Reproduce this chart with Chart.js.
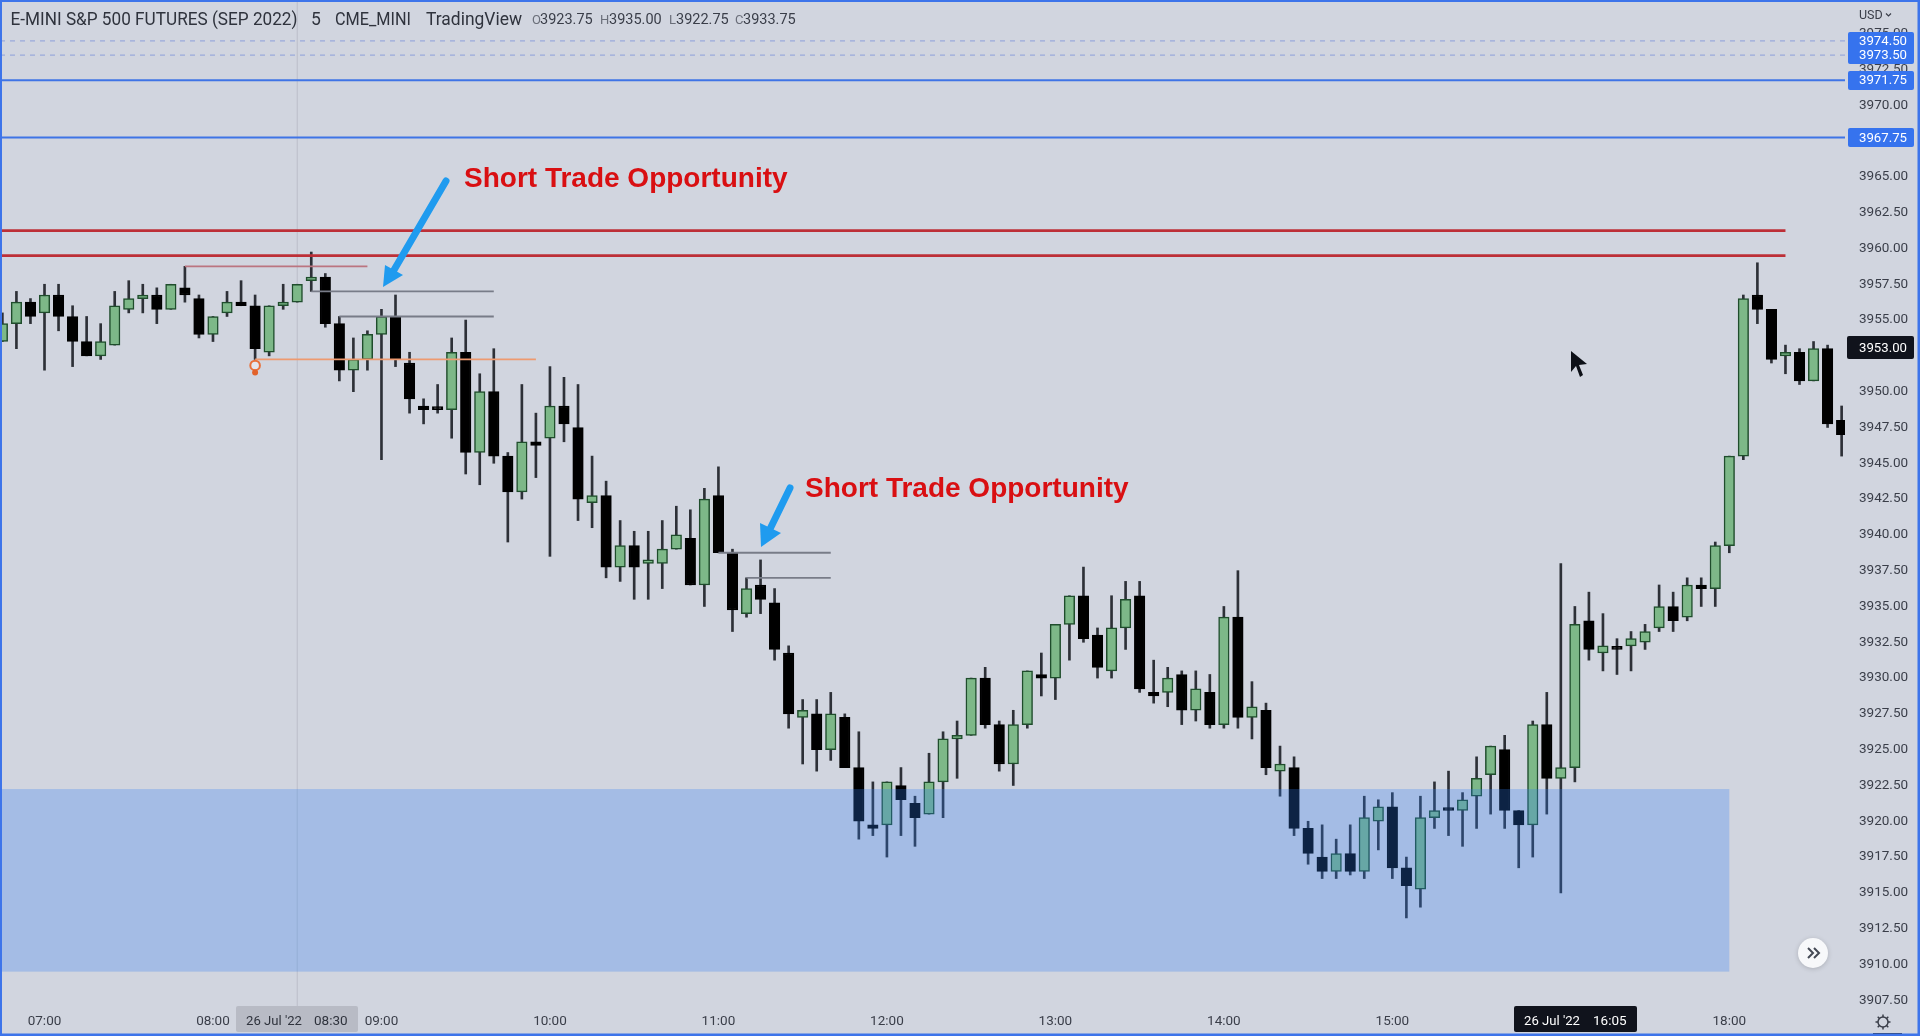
<!DOCTYPE html>
<html><head><meta charset="utf-8">
<style>html,body{margin:0;padding:0;background:#d1d5df;overflow:hidden}canvas{display:block}</style>
<script src="https://cdn.jsdelivr.net/npm/chart.js@4"></script>
</head><body><canvas id="c" width="1920" height="1036"></canvas>
<script>
const firstBar = -3; // bar number relative to the 07:00 bar, 5 minutes per bar
const opens = [3953.5,3954.75,3956.25,3955.5,3956.75,3955.25,3953.5,3952.5,3953.25,3955.75,
3956.5,3956.75,3955.75,3957.25,3956.5,3954,3955.5,3956.25,3956,3952.75,
3956,3956.25,3957.75,3958,3954.75,3951.5,3952.25,3954,3955.25,3952,
3949,3948.75,3948.75,3952.75,3945.75,3950,3945.5,3943,3946.5,3946.75,
3949,3947.5,3942.25,3942.75,3937.75,3939.25,3938,3938,3939,3939.75,
3936.5,3942.75,3938.75,3934.5,3936.5,
3935.25,3931.75,3927.25,3927.5,3925,3927.25,3923.75,3919.75,3919.75,3922.5,
3921.25,3920.5,3922.75,3925.75,3926,3930,3926.75,3924,3926.75,3930.25,
3930,3933.75,3935.75,3933,3930.5,3933.5,3935.75,3929,3929,3930.25,
3927.75,3929,3926.75,3934.25,3927.25,3927.75,3923.5,3923.75,3919.5,3917.5,
3916.5,3917.75,3916.5,3920,3921,3916.75,3915.25,3920.25,3920.75,3920.75,
3921.75,3923.25,3925,3920.75,3919.75,3926.75,3923,3923.75,3934,3931.75,
3932,3932.25,3932.5,3933.5,3935,3934.25,3936.5,3936.25,3939.25,3945.5,
3956.75,3955.75,3952.5,3952.75,3950.75,3953,3948];
const closes = [3954.75,3956.25,3955.25,3956.75,3955.25,3953.5,3952.5,3953.5,3956,3956.5,
3956.75,3955.75,3957.5,3956.75,3954,3955.25,3956.25,3956,3953,3956,
3956.25,3957.5,3958,3954.75,3951.5,3952.25,3954,3955.25,3952.25,3949.5,
3948.75,3948.75,3952.75,3945.75,3950,3945.5,3943,3946.5,3946.25,3949,
3947.75,3942.5,3942.75,3937.75,3939.25,3937.75,3938.25,3939,3940,3936.5,
3942.5,3938.75,3934.75,3936.25,3935.5,
3932,3927.5,3927.75,3925,3927.5,3923.75,3920,3919.5,3922.75,3921.5,
3920.25,3922.75,3925.75,3926,3930,3926.75,3924,3926.75,3930.5,3930,
3933.75,3935.75,3932.75,3930.75,3933.5,3935.5,3929.25,3928.75,3930,3927.75,
3929.25,3926.75,3934.25,3927.25,3928,3923.75,3924,3919.5,3917.75,3916.5,
3917.75,3916.5,3920.25,3921,3916.75,3915.5,3920.25,3920.75,3920.75,3921.5,
3923,3925.25,3920.75,3919.75,3926.75,3923,3923.75,3933.75,3932,3932.25,
3932,3932.75,3933.25,3935,3934,3936.5,3936.25,3939.25,3945.5,3956.5,
3955.75,3952.25,3952.75,3950.75,3953,3947.75,3947];
const highs = [3955.5,3957,3956.5,3957.5,3957.5,3956,3955.25,3954.75,3957,3957.75,
3957.5,3957.25,3957.5,3958.75,3956.75,3955.25,3957,3957.75,3956.75,3956,
3957.5,3957.5,3959.75,3958.25,3955.25,3953.75,3954.25,3955.75,3956.75,3952.75,
3949.5,3950.5,3953.75,3955,3951.25,3953,3945.75,3950.5,3948.5,3951.75,
3951,3950.5,3945.5,3943.75,3941,3940.25,3940.25,3941,3942,3941.75,
3943.25,3944.75,3939,3937,3938.25,
3936.25,3932.25,3928.5,3928.5,3929,3927.5,3926.25,3922.75,3922.75,3923.75,
3921.75,3924.75,3926.25,3927,3930,3930.75,3927,3927.75,3930.5,3931.75,
3933.75,3935.75,3937.75,3933.5,3935.75,3936.75,3936.75,3931.25,3930.75,3930.5,
3930.5,3930.25,3935,3937.5,3929.75,3928.25,3925.25,3924.5,3920,3919.75,
3918.75,3919.75,3921.75,3921.5,3922,3917.5,3921.75,3922.75,3923.5,3922,
3924.5,3925.25,3926,3920.75,3927,3929,3938,3935,3936,3934.5,
3932.75,3933.25,3933.75,3936.5,3936,3937,3937,3939.5,3945.5,3956.75,
3959,3955.75,3953.25,3953,3953.5,3953.25,3949];
const lows = [3953.5,3953,3954.75,3951.5,3954.25,3951.75,3952.5,3952.25,3953.25,3955.5,
3955.5,3954.75,3955.75,3956.25,3953.75,3953.5,3955.25,3956,3952.25,3952.5,
3955.75,3956.25,3957,3954.5,3950.75,3950,3951.5,3945.25,3951.75,3948.5,
3947.75,3948.5,3946.75,3944.25,3943.5,3945,3939.5,3942.5,3944,3938.5,
3946.5,3941,3940.5,3937,3936.75,3935.5,3935.5,3936.25,3939,3936.5,
3935,3938.75,3933.25,3934.25,3934.5,
3931.25,3926.5,3924,3923.5,3924.25,3923.75,3918.75,3919,3917.5,3919,
3918.25,3920.5,3920.25,3923,3926,3926.5,3923.5,3922.5,3926.5,3928.75,
3928.5,3931.25,3932.5,3930,3930,3932,3929,3928.25,3928,3926.75,
3927,3926.5,3926.5,3926.5,3925.75,3923.25,3921.75,3919,3917,3916,
3916,3916.25,3916,3918,3916,3913.25,3914,3919.5,3919,3918.25,
3919.5,3920.5,3919.5,3916.75,3917.5,3920.5,3915,3922.75,3931.25,3930.5,
3930.25,3930.5,3932,3933.25,3933.25,3934,3935,3935,3938.75,3945.25,
3954.75,3952,3951.25,3950.5,3950.75,3947.5,3945.5];

const priceTicks = [3907.5,3910,3912.5,3915,3917.5,3920,3922.5,3925,3927.5,3930,3932.5,3935,3937.5,3940,3942.5,3945,3947.5,3950,3952.5,3955,3957.5,3960,3962.5,3965,3967.5,3970,3972.5,3975];
const timeBars = [0,12,24,36,48,60,72,84,96,120];
const timeLabels = ['07:00','08:00','09:00','10:00','11:00','12:00','13:00','14:00','15:00','18:00'];

const solidBlueLevels = [3971.75,3967.75];
const dashedBlueLevels = [3974.5,3973.5];
const redLevels = [3961.25,3959.5];
const redEndBar = 124;
const grayRanges = [[19,32,3957],[21,32,3955.25],[48,56,3938.75],[50,56,3937]];
const pinkRange = [10,23,3958.75];
const orangeRange = [15,35,3952.25];
const crosshairBar = 18;
const zoneRange = {bar:120, top:3922.25, bottom:3909.5};

const X_MIN = -3.17, X_MAX = 128.24, Y_MAX = 3977.35, Y_MIN = 3907.10;
const FONT = 'Roboto, "Open Sans", sans-serif';
const bars = opens.map((o,k)=>k+firstBar);
const GREEN='#7db888', GREEN_EDGE='#1f4d2c', BLACK='#000000';
const isUp = opens.map((o,k)=>closes[k]>o);

function seg(x0,x1,y,color,width,order,dash){
  return {type:'line',data:[{x:x0,y:y},{x:x1,y:y}],borderColor:color,borderWidth:width,pointRadius:0,order:order,borderDash:dash||[]};
}
const datasets = [
  {type:'bar',label:'body',order:3,grouped:false,barThickness:10.5,minBarLength:3,borderSkipped:false,borderWidth:1.5,
   data:bars.map((x,k)=>({x:x,y:[opens[k],closes[k]]})),
   backgroundColor:isUp.map(u=>u?GREEN:BLACK),borderColor:isUp.map(u=>u?GREEN_EDGE:BLACK)},
  {type:'bar',label:'wick',order:4,grouped:false,barThickness:2,borderWidth:0,backgroundColor:'#2d3037',
   data:bars.map((x,k)=>({x:x,y:[lows[k],highs[k]]}))},
  {type:'line',label:'crosshair',order:6,data:[{x:crosshairBar,y:Y_MIN},{x:crosshairBar,y:Y_MAX}],borderColor:'#bbbec9',borderWidth:1,pointRadius:0},
];
solidBlueLevels.forEach(v=>datasets.push(seg(X_MIN,X_MAX,v,'#3f74e6',2,1)));
dashedBlueLevels.forEach(v=>datasets.push(seg(X_MIN,X_MAX,v,'#9aaadb',1.2,1,[5,5])));
redLevels.forEach(v=>datasets.push(seg(X_MIN,redEndBar,v,'#bd2f37',2.8,1)));
grayRanges.forEach(r=>datasets.push(seg(r[0],r[1],r[2],'#787c88',1.8,2)));
datasets.push(seg(pinkRange[0],pinkRange[1],pinkRange[2],'#bb7580',1.6,2));
datasets.push(seg(orangeRange[0],orangeRange[1],orangeRange[2],'#ee9a70',1.8,2));

const overlay = {
  id:'overlay',
  afterDatasetsDraw(chart){
    const {ctx,scales:{x,y}} = chart;
    ctx.save();
    // demand zone
    const zx1=x.getPixelForValue(zoneRange.bar), zt=y.getPixelForValue(zoneRange.top), zb=y.getPixelForValue(zoneRange.bottom);
    ctx.fillStyle='rgba(45,125,245,0.28)';
    ctx.fillRect(0,zt,zx1,zb-zt);
    // light bulb marker below bar 15
    const bx=x.getPixelForValue(orangeRange[0]), by=y.getPixelForValue(orangeRange[2]);
    ctx.strokeStyle='#e8703a';ctx.lineWidth=2;ctx.fillStyle='#e4e5ec';
    ctx.beginPath();ctx.arc(bx,by+6,4.8,0,Math.PI*2);ctx.fill();ctx.stroke();
    ctx.fillStyle='#e2622a';ctx.beginPath();ctx.arc(bx,by+13,3,0,Math.PI*2);ctx.fill();
    // arrows
    const arrow=(tx,ty,hx,hy,b1x,b1y,b2x,b2y)=>{
      ctx.strokeStyle='#1f9bef';ctx.fillStyle='#1f9bef';ctx.lineWidth=7;ctx.lineCap='round';
      ctx.beginPath();ctx.moveTo(tx,ty);ctx.lineTo((b1x+b2x)/2,(b1y+b2y)/2);ctx.stroke();
      ctx.beginPath();ctx.moveTo(hx,hy);ctx.lineTo(b1x,b1y);ctx.lineTo(b2x,b2y);ctx.closePath();ctx.fill();
    };
    arrow(446,181,383,287,385,265,403,275);
    arrow(790,488,761,547,760,523,781,533);
    // annotation text
    ctx.fillStyle='#d90f12';ctx.font='bold 28px "Liberation Sans", Arial, sans-serif';ctx.textAlign='left';ctx.textBaseline='alphabetic';
    ctx.fillText('Short Trade Opportunity',464,187,324);
    ctx.fillText('Short Trade Opportunity',805,497,324);
    // mouse cursor
    const c=[[1571,351],[1571,372],[1576,366],[1580,377],[1583,375],[1579,365],[1587,364]];
    ctx.fillStyle='#0d1017';ctx.beginPath();c.forEach((p,i)=>i?ctx.lineTo(p[0],p[1]):ctx.moveTo(p[0],p[1]));ctx.closePath();ctx.fill();
    ctx.restore();
  },
  afterDraw(chart){
    const {ctx} = chart;
    ctx.save();
    const text=(s,tx,ty,color,font,maxW,align)=>{ctx.fillStyle=color;ctx.font=font;ctx.textAlign=align||'left';ctx.textBaseline='middle';ctx.fillText(s,tx,ty,maxW);};
    const box=(x0,y0,x1,y1,c)=>{ctx.fillStyle=c;ctx.beginPath();ctx.roundRect(x0,y0,x1-x0,y1-y0,2);ctx.fill();};
    const f13='13.5px '+FONT;
    // header
    const dark='#2f333d', H='17.5px '+FONT, HY=20.5;
    text('E-MINI S&P 500 FUTURES (SEP 2022)',10.5,HY,dark,H,287);
    text('5',311,HY,dark,H);
    text('CME_MINI',335,HY,dark,H,76);
    text('TradingView',426,HY,dark,H,96);
    const S='14.5px '+FONT;
    [['O',532,'3923.75',540],['H',600,'3935.00',609],['L',669,'3922.75',676],['C',735,'3933.75',743]].forEach(r=>{
      text(r[0],r[1],HY,'#6a6e79','13px '+FONT);text(r[2],r[3],HY,'#3a3e49',S,53);
    });
    // price labels
    text('USD',1859,15.5,'#3a3e49','12.5px '+FONT);
    ctx.strokeStyle='#3a3e49';ctx.lineWidth=1.2;ctx.beginPath();ctx.moveTo(1886,13.5);ctx.lineTo(1888.5,16);ctx.lineTo(1891,13.5);ctx.stroke();
    box(1848,32,1914,64,'#3673ee');
    text('3974.50',1859,42,'#ffffff',f13,48);text('3973.50',1859,56,'#ffffff',f13,48);
    box(1848,71,1914,90,'#3673ee');
    text('3971.75',1859,81,'#ffffff',f13,48);
    box(1848,128,1914,147,'#3673ee');
    text('3967.75',1859,138.5,'#ffffff',f13,48);
    box(1847,336,1914,359,'#10131c');
    text('3953.00',1859,349,'#ffffff',f13,48);
    // time labels on crosshairs
    box(236,1006,358,1032,'#b8bbc5');
    text("26 Jul '22",246,1021.5,'#2f333d',f13,56);text('08:30',314,1021.5,'#2f333d',f13);
    box(1514,1006,1637,1032,'#10131c');
    text("26 Jul '22",1524,1021.5,'#ffffff',f13,56);text('16:05',1593,1021.5,'#ffffff',f13);
    // scroll button
    ctx.shadowColor='rgba(0,0,0,0.18)';ctx.shadowBlur=5;ctx.shadowOffsetY=1;
    ctx.fillStyle='#f7f8fa';ctx.beginPath();ctx.arc(1813,953,15,0,Math.PI*2);ctx.fill();
    ctx.shadowColor='transparent';ctx.shadowBlur=0;ctx.shadowOffsetY=0;
    ctx.strokeStyle='#444954';ctx.lineWidth=2;
    [1808,1814].forEach(px=>{ctx.beginPath();ctx.moveTo(px,948);ctx.lineTo(px+5,953);ctx.lineTo(px,958);ctx.stroke();});
    // settings gear
    ctx.strokeStyle='#3a3e49';ctx.lineWidth=1.5;
    ctx.beginPath();ctx.arc(1883,1022,5,0,Math.PI*2);ctx.stroke();
    for(let a=0;a<8;a++){const t=a*Math.PI/4;ctx.beginPath();ctx.moveTo(1883+5*Math.cos(t),1022+5*Math.sin(t));ctx.lineTo(1883+7.5*Math.cos(t),1022+7.5*Math.sin(t));ctx.stroke();}
    ctx.fillStyle='#2d3140';ctx.fillRect(1873,1033,29,3);
    // window frame
    ctx.fillStyle='#3d74ea';
    ctx.fillRect(0,0,1920,2);ctx.fillRect(0,0,2,1036);ctx.fillRect(0,1033.5,1920,2.5);ctx.fillRect(1917.5,0,2.5,1036);
    ctx.restore();
  }
};

new Chart(document.getElementById('c'),{
  data:{datasets},
  plugins:[overlay],
  options:{
    responsive:false,animation:false,devicePixelRatio:1,
    layout:{padding:0},
    plugins:{legend:{display:false},tooltip:{enabled:false}},
    scales:{
      x:{type:'linear',offset:false,position:'bottom',min:X_MIN,max:X_MAX,
        grid:{display:false,drawTicks:false},border:{display:false},
        ticks:{autoSkip:false,maxRotation:0,padding:8,color:'#3a3e49',font:{family:FONT,size:13.5},
          callback:v=>{const k=timeBars.indexOf(v);return k<0?'':timeLabels[k];}},
        afterBuildTicks:a=>{a.ticks=timeBars.map(v=>({value:v}));},
        afterFit:a=>{a.height=30;a.paddingLeft=0;a.paddingRight=0;}},
      y:{type:'linear',position:'right',min:Y_MIN,max:Y_MAX,
        grid:{display:false,drawTicks:false},border:{display:false},
        ticks:{autoSkip:false,padding:14,color:'#3a3e49',font:{family:FONT,size:13.5},callback:v=>v.toFixed(2)},
        afterBuildTicks:a=>{a.ticks=priceTicks.map(v=>({value:v}));},
        afterFit:a=>{a.width=75;a.paddingTop=0;a.paddingBottom=0;}}
    }
  }
});
</script></body></html>
